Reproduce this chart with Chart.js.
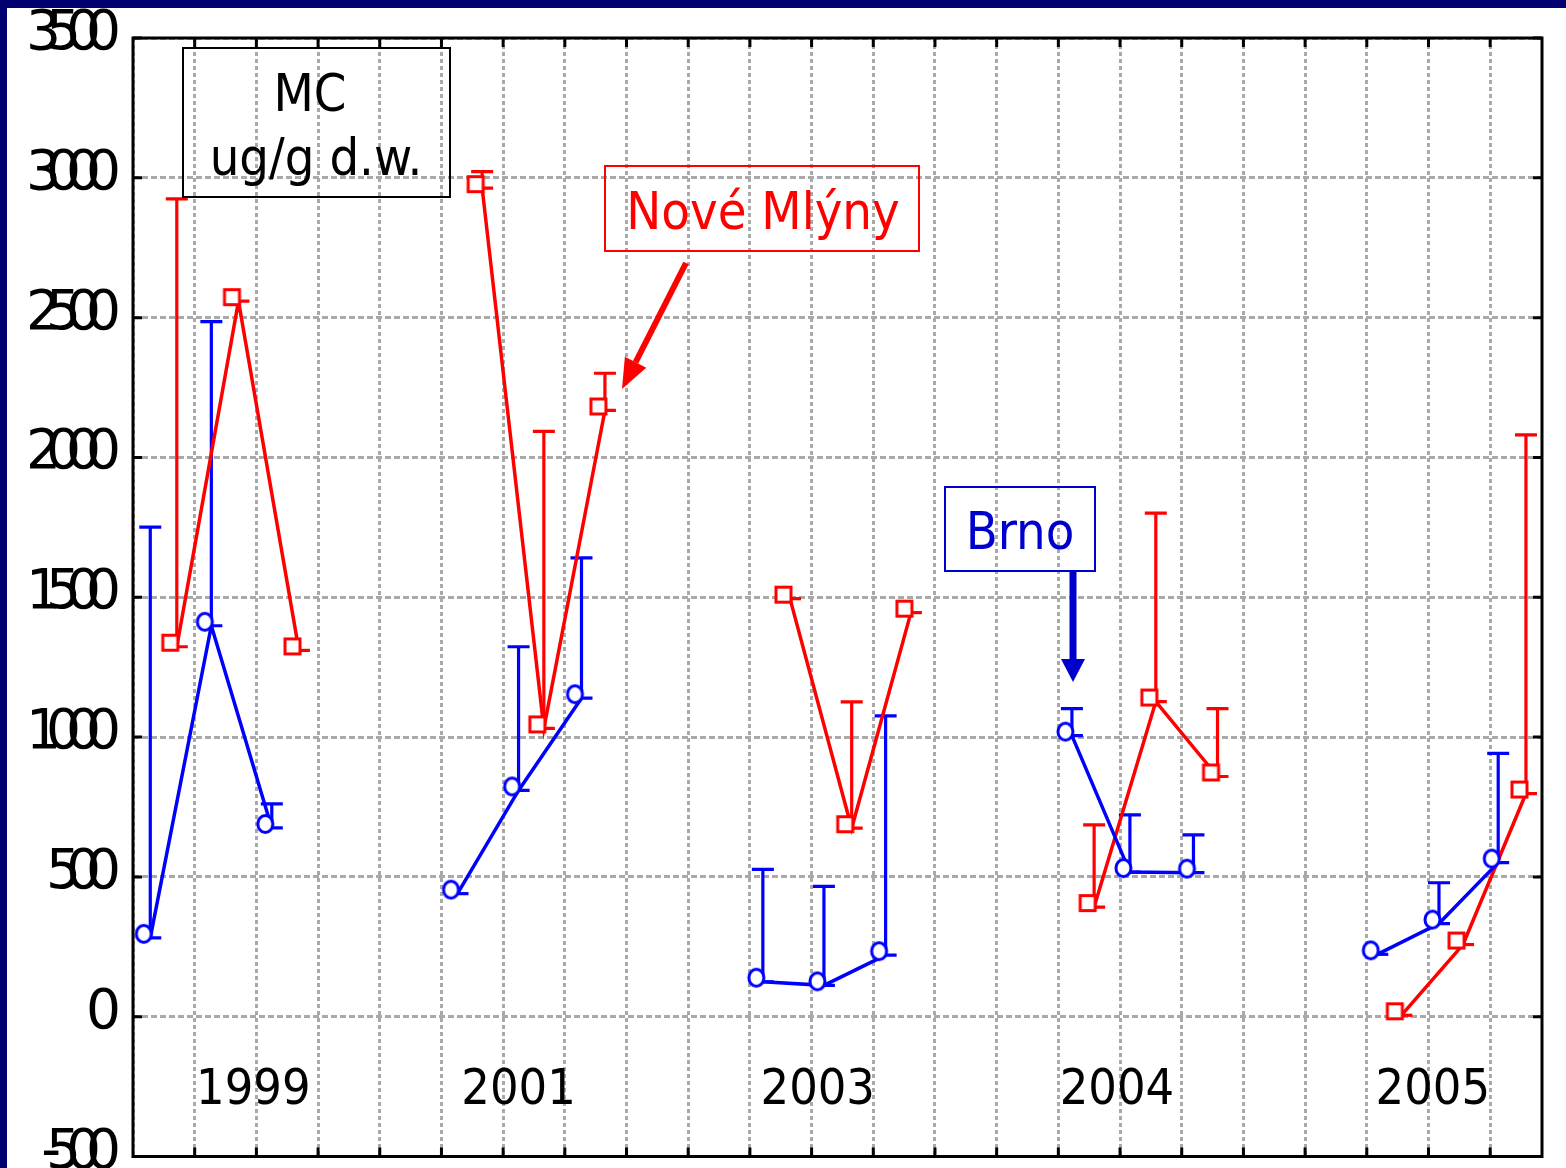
<!DOCTYPE html>
<html>
<head>
<meta charset="utf-8">
<script src="https://cdn.jsdelivr.net/npm/chart.js@4.4.0/dist/chart.umd.min.js"></script>
<style>
html,body{margin:0;padding:0;background:#fff;}
#wrap{width:1566px;height:1168px;}
</style>
</head>
<body>
<div id="wrap"><canvas id="mcChart" width="1566" height="1168"></canvas></div>
<script>
// y axis ticks
const yTickLabels = ['-500','0','500','1000','1500','2000','2500','3000','3500'];

// sampling years, written inside the plot
const yearLabels = ['1999','2001','2003','2004','2005'];
const yearPos = [1.95, 6.25, 11.1, 15.95, 21.07];

// Brno (blue, circles): position, mean, top of error bar (null = none)
const brnoX = [0.28,1.27,2.25, 5.26,6.25,7.27, 10.21,11.2,12.2, 15.22,16.16,17.19, 20.17,21.17,22.13];
const brnoMean = [282,1398,675, 440,809,1139, 125,112,220, 1005,517,515, 223,333,551];
const brnoTop = [1751,2486,761, null,1323,1641, 527,466,1076, 1102,722,650, null,479,942];

// Nove Mlyny (red, squares)
const nmX = [0.71,1.71,2.69, 5.66,6.66,7.65, 10.65,11.65,12.61, 15.58,16.58,17.58, 20.56,21.56,22.58];
const nmMean = [1323,2559,1310, 2963,1031,2168, 1495,674,1445, 392,1127,859, 5,258,798];
const nmTop = [2925,null,null, 3022,2093,2301, null,1126,null, 686,1801,1102, null,null,2081];

const BLUE = '#0000ff', RED = '#ff0000';
const FONT = '"DejaVu Sans Condensed", "DejaVu Sans", sans-serif';

// break the line between year groups (3 samples each)
function toPoints(xs, ys){
  const pts = [];
  xs.forEach((x,i) => {
    pts.push({x: x, y: ys[i]});
    if ((i+1) % 3 === 0 && i < xs.length-1) pts.push({x: x+0.01, y: null});
  });
  return pts;
}

// hollow marker, drawn a bit up-left of the data point like the original
function marker(shape, color){
  const c = document.createElement('canvas');
  c.width = 48; c.height = 48;
  const g = c.getContext('2d');
  g.lineWidth = 3; g.strokeStyle = color; g.fillStyle = '#fff';
  const cx = 24-6.5, cy = 24-4;
  if (shape === 'square') {
    g.fillRect(cx-7.5, cy-7.5, 15, 15); g.strokeRect(cx-7.5, cy-7.5, 15, 15);
  } else {
    g.beginPath(); g.ellipse(cx, cy, 7.5, 8.5, 0, 0, Math.PI*2); g.fill(); g.stroke();
  }
  return c;
}

const errorBars = {
  id: 'errorBars',
  beforeDatasetsDraw(chart){
    const ctx = chart.ctx, xs = chart.scales.x, ys = chart.scales.y;
    [[brnoX,brnoMean,brnoTop,BLUE],[nmX,nmMean,nmTop,RED]].forEach(([X,M,T,col]) => {
      ctx.save();
      ctx.strokeStyle = col; ctx.lineWidth = 3.2;
      X.forEach((x,i) => {
        const px = xs.getPixelForValue(x), pm = ys.getPixelForValue(M[i]);
        ctx.beginPath();
        ctx.moveTo(px-11, pm); ctx.lineTo(px+11, pm);
        if (T[i] !== null) {
          const pt = ys.getPixelForValue(T[i]);
          ctx.moveTo(px, pm); ctx.lineTo(px, pt);
          ctx.moveTo(px-11, pt); ctx.lineTo(px+11, pt);
        }
        ctx.stroke();
      });
      ctx.restore();
    });
  }
};

function arrow(ctx, x1, y1, x2, y2, w, headLen, headW, col){
  const a = Math.atan2(y2-y1, x2-x1);
  const bx = x2 - headLen*Math.cos(a), by = y2 - headLen*Math.sin(a);
  ctx.save();
  ctx.strokeStyle = col; ctx.fillStyle = col; ctx.lineWidth = w;
  ctx.beginPath(); ctx.moveTo(x1,y1); ctx.lineTo(bx,by); ctx.stroke();
  ctx.beginPath();
  ctx.moveTo(x2,y2);
  ctx.lineTo(bx + headW/2*Math.sin(a), by - headW/2*Math.cos(a));
  ctx.lineTo(bx - headW/2*Math.sin(a), by + headW/2*Math.cos(a));
  ctx.closePath(); ctx.fill();
  ctx.restore();
}

const decor = {
  id: 'decor',
  beforeDraw(chart){
    const ctx = chart.ctx;
    ctx.save(); ctx.fillStyle = '#fff'; ctx.fillRect(0,0,chart.width,chart.height); ctx.restore();
  },
  afterDraw(chart){
    const ctx = chart.ctx, a = chart.chartArea, xs = chart.scales.x, ys = chart.scales.y;
    ctx.save();
    // frame and inward ticks
    ctx.strokeStyle = '#000'; ctx.lineWidth = 3;
    ctx.strokeRect(a.left, a.top, a.right-a.left, a.bottom-a.top);
    ctx.beginPath();
    ys.ticks.forEach(t => {
      const y = ys.getPixelForValue(t.value);
      ctx.moveTo(a.left, y); ctx.lineTo(a.left+9, y);
      ctx.moveTo(a.right-9, y); ctx.lineTo(a.right, y);
    });
    xs.ticks.forEach(t => {
      if (t.value <= 0) return;
      const x = xs.getPixelForValue(t.value);
      ctx.moveTo(x, a.top); ctx.lineTo(x, a.top+9);
      ctx.moveTo(x, a.bottom-9); ctx.lineTo(x, a.bottom);
    });
    ctx.stroke();

    // y labels, glyphs packed tight like the original
    ctx.fillStyle = '#000';
    ctx.font = '55px "DejaVu Sans", sans-serif';
    ctx.textAlign = 'right'; ctx.textBaseline = 'alphabetic';
    yTickLabels.forEach(lbl => {
      const y = ys.getPixelForValue(Number(lbl)) + 11;
      let x = 121;
      for (let i = lbl.length-1; i >= 0; i--) { ctx.fillText(lbl[i], x, y); x -= 20; }
    });

    // year labels
    ctx.textAlign = 'center';
    ctx.font = '50px ' + FONT;
    yearLabels.forEach((lbl,i) => {
      ctx.fillText(lbl, xs.getPixelForValue(yearPos[i]), ys.getPixelForValue(-250) + 17);
    });

    // MC box
    ctx.lineWidth = 2; ctx.strokeStyle = '#000';
    ctx.strokeRect(183, 48, 267, 149);
    ctx.font = '52px ' + FONT;
    ctx.fillText('MC', 310, 111);
    ctx.fillText('ug/g d.w.', 316, 175);

    // Nove Mlyny box + arrow
    ctx.strokeStyle = RED; ctx.fillStyle = RED;
    ctx.strokeRect(605, 166, 314, 85);
    ctx.fillText('Nové Mlýny', 763, 229);
    arrow(ctx, 686, 263, 622, 389, 6, 30, 24, RED);

    // Brno box + arrow
    ctx.strokeStyle = '#0000cc'; ctx.fillStyle = '#0000cc';
    ctx.strokeRect(945, 487, 150, 84);
    ctx.fillText('Brno', 1020, 549);
    arrow(ctx, 1073, 572, 1073, 682, 7, 23, 24, '#0000cc');

    // navy slide frame
    ctx.fillStyle = '#000070';
    ctx.fillRect(0, 0, chart.width, 8);
    ctx.fillRect(0, 0, 7, chart.height);
    ctx.restore();
  }
};

const gridColor = '#a9a9a9';
new Chart(document.getElementById('mcChart').getContext('2d'), {
  type: 'line',
  data: {
    datasets: [
      {label: 'Brno', data: toPoints(brnoX, brnoMean), borderColor: BLUE, borderWidth: 3.5,
       pointStyle: marker('circle', BLUE), pointRadius: 8, spanGaps: false, tension: 0, fill: false},
      {label: 'Nové Mlýny', data: toPoints(nmX, nmMean), borderColor: RED, borderWidth: 3.5,
       pointStyle: marker('square', RED), pointRadius: 8, spanGaps: false, tension: 0, fill: false}
    ]
  },
  options: {
    responsive: false, animation: false,
    layout: {padding: {left: 133, top: 38, right: 24, bottom: 8}},
    plugins: {legend: {display: false}, tooltip: {enabled: false}},
    scales: {
      x: {type: 'linear', min: 0, max: 22.84,
          ticks: {display: false, stepSize: 1, includeBounds: false},
          grid: {color: gridColor, lineWidth: 3, drawTicks: false},
          border: {display: false, dash: [4,3]},
          afterFit(s){ s.height = 0; }},
      y: {min: -500, max: 3500,
          ticks: {display: false, stepSize: 500},
          grid: {color: gridColor, lineWidth: 3, drawTicks: false},
          border: {display: false, dash: [6,3]},
          afterFit(s){ s.width = 0; }}
    }
  },
  plugins: [errorBars, decor]
});
</script>
</body>
</html>
